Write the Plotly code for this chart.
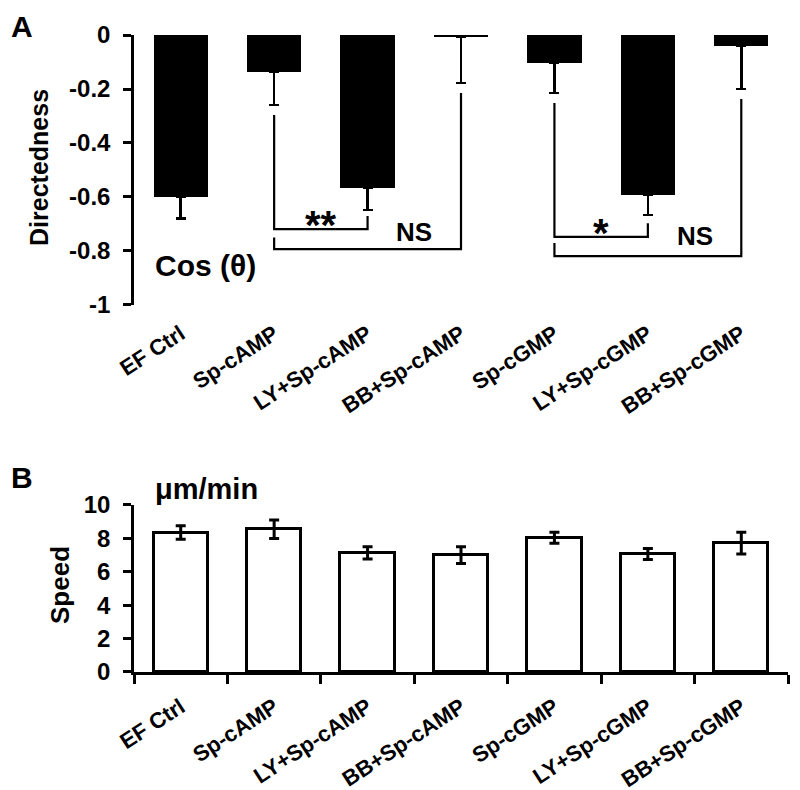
import plotly.graph_objects as go

categories = ["EF Ctrl", "Sp-cAMP", "LY+Sp-cAMP", "BB+Sp-cAMP",
              "Sp-cGMP", "LY+Sp-cGMP", "BB+Sp-cGMP"]
directedness = [-0.60, -0.137, -0.567, -0.005, -0.104, -0.593, -0.04]
directedness_err = [0.08, 0.123, 0.081, 0.173, 0.11, 0.074, 0.16]
speed = [8.35, 8.55, 7.13, 7.0, 8.04, 7.07, 7.72]
speed_err = [0.4, 0.55, 0.37, 0.5, 0.33, 0.33, 0.65]

a_tickvals = [0, -0.2, -0.4, -0.6, -0.8, -1]
a_ticktext = ["0", "-0.2", "-0.4", "-0.6", "-0.8", "-1"]
b_tickvals = [0, 2, 4, 6, 8, 10]
b_ticktext = ["0", "2", "4", "6", "8", "10"]

# significance brackets (panel A)
br_from = [1, 1, 4, 4]
br_to = [2, 3, 5, 6]
br_level = [-0.719, -0.793, -0.748, -0.819]
br_left_top = [-0.296, -0.75, -0.252, -0.77]
br_right_top = [-0.67, -0.215, -0.697, -0.237]
br_label = ["**", "NS", "*", "NS"]
br_label_x = [1.5, 2.5, 4.5, 5.5]
br_label_y = [-0.705, -0.73, -0.735, -0.745]

n = len(categories)
FONT = "Liberation Sans, Arial, Helvetica, sans-serif"
XDOM = [0.1575, 0.975]

fig = go.Figure()

fig.add_trace(go.Bar(
    x=list(range(n)), y=directedness, width=0.58,
    marker=dict(color="black", line=dict(width=0)),
    error_y=dict(type="data", symmetric=False, array=[0] * n,
                 arrayminus=directedness_err, color="black",
                 thickness=2.5, width=5),
    xaxis="x", yaxis="y", hoverinfo="skip"))

for f, t, lv, lt, rt in zip(br_from, br_to, br_level, br_left_top, br_right_top):
    fig.add_trace(go.Scatter(
        x=[f, f, t, t], y=[lt, lv, lv, rt], mode="lines",
        line=dict(color="black", width=2.2),
        xaxis="x", yaxis="y", hoverinfo="skip"))

fig.add_trace(go.Bar(
    x=categories, y=speed, width=0.58,
    marker=dict(color="white", line=dict(color="black", width=3)),
    error_y=dict(type="data", array=speed_err, color="black",
                 thickness=3, width=5),
    xaxis="x2", yaxis="y2", hoverinfo="skip"))

bold = dict(family=FONT, color="black", weight="bold")

fig.update_layout(
    width=800, height=790,
    margin=dict(l=0, r=0, t=0, b=0),
    paper_bgcolor="white", plot_bgcolor="white",
    showlegend=False,
    bargap=0,
    xaxis=dict(domain=XDOM, anchor="y", range=[-0.5, n - 0.5],
               tickvals=list(range(n)), ticktext=categories,
               tickangle=-33, ticks="", showline=False, showgrid=False,
               zeroline=False, tickfont=dict(size=22, **bold),
               ticklabelstandoff=11, automargin=False),
    xaxis3=dict(overlaying="x", anchor="y", side="top", range=[-0.5, n - 0.5],
                tickvals=[i - 0.5 for i in range(n + 1)],
                showticklabels=False, ticks="inside", ticklen=9,
                tickwidth=2.5, tickcolor="black", showline=True,
                linewidth=2.5, linecolor="black", showgrid=False,
                zeroline=False, automargin=False),
    yaxis=dict(domain=[0.6241, 0.9658], anchor="x", range=[-1, 0],
               tickvals=a_tickvals, ticktext=a_ticktext, ticks="outside",
               ticklen=8, tickwidth=2.5, tickcolor="black", showline=True,
               linewidth=2.5, linecolor="black", showgrid=False,
               zeroline=False, tickfont=dict(size=24, **bold),
               ticklabelstandoff=8, automargin=False),
    xaxis2=dict(domain=XDOM, anchor="y2", type="category",
                categoryorder="array", categoryarray=categories,
                tickson="boundaries", ticks="outside", ticklen=9,
                tickwidth=2.5, tickcolor="black", showline=True,
                linewidth=2.5, linecolor="black", showgrid=False,
                tickangle=-33, tickfont=dict(size=22, **bold),
                ticklabelstandoff=11, automargin=False),
    yaxis2=dict(domain=[0.1595, 0.3709], anchor="x2", range=[0, 10],
                tickvals=b_tickvals, ticktext=b_ticktext, ticks="outside",
                ticklen=8, tickwidth=2.5, tickcolor="black", showline=True,
                linewidth=2.5, linecolor="black", showgrid=False,
                zeroline=False, tickfont=dict(size=24, **bold),
                ticklabelstandoff=8, automargin=False),
)

annotations = []
for lab, lx, ly in zip(br_label, br_label_x, br_label_y):
    annotations.append(dict(x=lx, y=ly, xref="x", yref="y", text=lab,
                            showarrow=False, xanchor="center", yanchor="middle",
                            font=dict(size=40 if "*" in lab else 26, **bold)))
annotations += [
    dict(x=0.27, y=-0.852, xref="x", yref="y", text="Cos (θ)", showarrow=False,
         xanchor="center", yanchor="middle", font=dict(size=30, **bold)),
    dict(x=0.0175, y=0.9772, xref="paper", yref="paper", text="A", showarrow=False,
         xanchor="center", yanchor="middle", font=dict(size=30, **bold)),
    dict(x=0.0175, y=0.4051, xref="paper", yref="paper", text="B", showarrow=False,
         xanchor="center", yanchor="middle", font=dict(size=30, **bold)),
    dict(x=0.03875, y=0.7975, xref="paper", yref="paper", text="Directedness",
         textangle=-90, showarrow=False, xanchor="center", yanchor="middle",
         font=dict(size=25, **bold)),
    dict(x=0.065, y=0.2696, xref="paper", yref="paper", text="Speed",
         textangle=-90, showarrow=False, xanchor="center", yanchor="middle",
         font=dict(size=26, **bold)),
    dict(x=0.2475, y=0.3911, xref="paper", yref="paper", text="μm/min",
         showarrow=False, xanchor="center", yanchor="middle",
         font=dict(size=29, **bold)),
]
fig.update_layout(annotations=annotations)

fig.write_html("out.html")
